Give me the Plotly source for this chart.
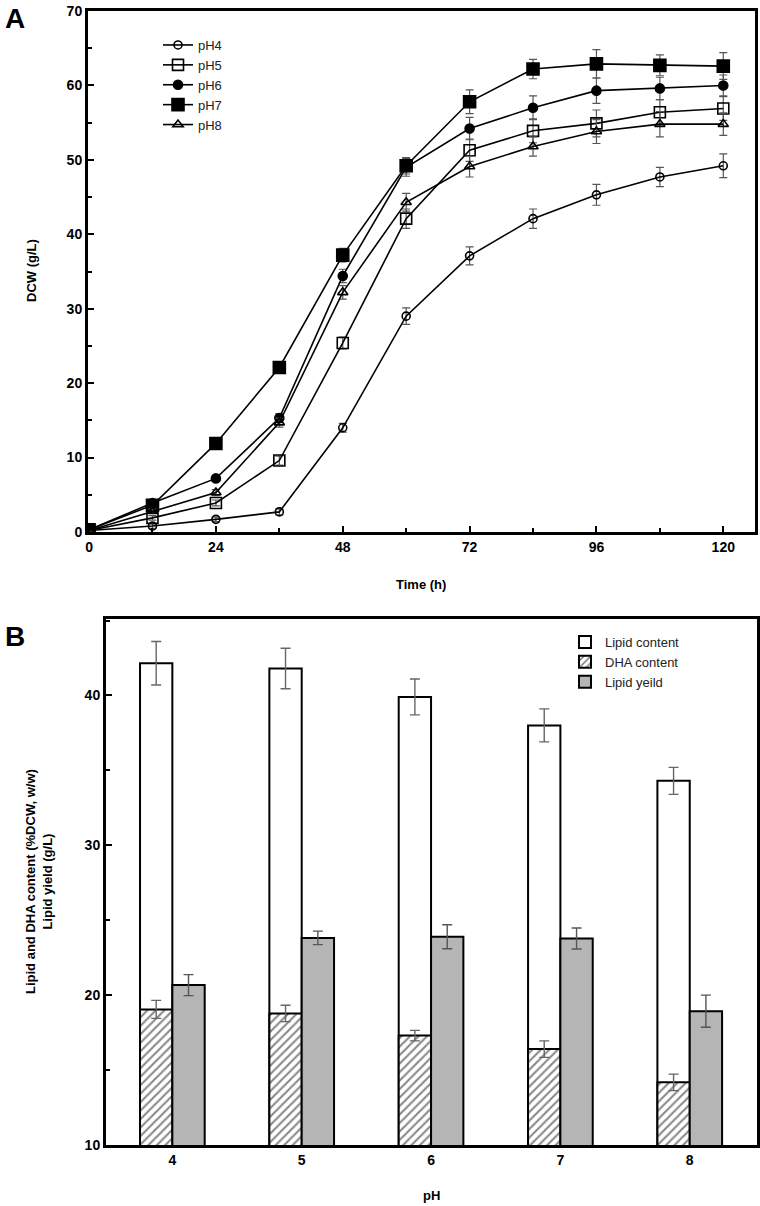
import plotly.graph_objects as go

# ---------------- Panel A data ----------------
time_h = [0, 12, 24, 36, 48, 60, 72, 84, 96, 108, 120]
dcw_ph4 = [0.2, 0.8, 1.7, 2.7, 14.0, 29.0, 37.1, 42.1, 45.3, 47.7, 49.2]
dcw_ph5 = [0.2, 1.9, 3.9, 9.6, 25.4, 42.1, 51.3, 53.9, 54.9, 56.4, 56.9]
dcw_ph6 = [0.3, 3.9, 7.2, 15.3, 34.4, 49.0, 54.2, 57.0, 59.3, 59.6, 60.0]
dcw_ph7 = [0.3, 3.6, 11.9, 22.1, 37.2, 49.2, 57.8, 62.2, 62.9, 62.7, 62.6]
dcw_ph8 = [0.2, 2.8, 5.3, 14.7, 32.2, 44.3, 49.1, 51.8, 53.8, 54.8, 54.8]
err_ph4 = [0.1, 0.3, 0.3, 0.4, 0.6, 1.1, 1.2, 1.3, 1.4, 1.3, 1.6]
err_ph5 = [0.1, 0.3, 0.4, 0.6, 0.8, 1.3, 1.5, 1.6, 1.8, 1.7, 1.6]
err_ph6 = [0.1, 0.3, 0.4, 0.6, 0.9, 1.2, 1.5, 1.6, 1.7, 1.5, 1.4]
err_ph7 = [0.1, 0.3, 0.4, 0.6, 0.9, 1.1, 1.6, 1.3, 1.9, 1.4, 1.8]
err_ph8 = [0.1, 0.3, 0.4, 0.6, 0.9, 1.2, 1.4, 1.3, 1.6, 1.7, 1.5]
series_names = ["pH4", "pH5", "pH6", "pH7", "pH8"]

# ---------------- Panel B data ----------------
ph = [4, 5, 6, 7, 8]
lipid_content = [42.15, 41.8, 39.9, 38.0, 34.3]
lipid_content_err = [1.45, 1.35, 1.2, 1.1, 0.9]
dha_content = [19.05, 18.78, 17.3, 16.4, 14.18]
dha_content_err = [0.6, 0.55, 0.35, 0.55, 0.55]
lipid_yield = [20.67, 23.82, 23.9, 23.78, 18.93]
lipid_yield_err = [0.7, 0.45, 0.8, 0.7, 1.07]

W, H = 760, 1206
FONT = "Liberation Sans, Arial, sans-serif"

fig = go.Figure()

marker_styles = [
    dict(symbol="circle-open", size=8),
    dict(symbol="square-open", size=11),
    dict(symbol="circle", size=9),
    dict(symbol="square", size=12),
    dict(symbol="triangle-up-open", size=9),
]
ys = [dcw_ph4, dcw_ph5, dcw_ph6, dcw_ph7, dcw_ph8]
errs = [err_ph4, err_ph5, err_ph6, err_ph7, err_ph8]
for name, y, e, ms in zip(series_names, ys, errs, marker_styles):
    fig.add_trace(go.Scatter(
        x=time_h, y=y, name=name, mode="lines+markers",
        line=dict(color="black", width=1.6),
        marker=dict(color="black", line=dict(color="black", width=1.6), **ms),
        error_y=dict(type="data", array=e, color="#555555", thickness=1.2, width=4),
        xaxis="x", yaxis="y", legend="legend",
    ))

fig.add_trace(go.Bar(
    x=ph, y=lipid_content, name="Lipid content", offset=-0.25, width=0.25,
    marker=dict(color="white", line=dict(color="black", width=2)),
    error_y=dict(type="data", array=lipid_content_err, color="#666666", thickness=1.4, width=5),
    xaxis="x2", yaxis="y2", legend="legend2",
))
fig.add_trace(go.Bar(
    x=ph, y=dha_content, name="DHA content", offset=-0.25, width=0.25,
    marker=dict(color="white", line=dict(color="black", width=2),
                pattern=dict(shape="/", fgcolor="#111111", bgcolor="white", size=6, solidity=0.35)),
    error_y=dict(type="data", array=dha_content_err, color="#666666", thickness=1.4, width=5),
    xaxis="x2", yaxis="y2", legend="legend2",
))
fig.add_trace(go.Bar(
    x=ph, y=lipid_yield, name="Lipid yeild", offset=0, width=0.25,
    marker=dict(color="#b5b5b5", line=dict(color="black", width=2)),
    error_y=dict(type="data", array=lipid_yield_err, color="#555555", thickness=1.4, width=5),
    xaxis="x2", yaxis="y2", legend="legend2",
))

def px_x(p):
    return p / W

def px_y(p):
    return 1 - p / H

tickfont = dict(family=FONT, size=14, color="black", weight="bold")
axis_common = dict(showline=True, linecolor="black", linewidth=3, mirror=True,
                   ticks="inside", tickcolor="black", tickwidth=2, ticklen=6,
                   showgrid=False, zeroline=False, tickfont=tickfont, automargin=False,
                   ticklabeloverflow="allow")

fig.update_layout(
    width=W, height=H, margin=dict(l=0, r=0, t=0, b=0),
    paper_bgcolor="white", plot_bgcolor="white",
    barmode="overlay", font=dict(family=FONT, color="black"),
    xaxis=dict(domain=[px_x(88), px_x(755)], range=[-0.2, 126], tickvals=[0, 24, 48, 72, 96, 120],
               minor=dict(dtick=12, tick0=0, ticks="inside", ticklen=4, tickcolor="black", tickwidth=2),
               anchor="y", **axis_common),
    yaxis=dict(domain=[px_y(532), px_y(11)], range=[0, 70], dtick=10,
               minor=dict(dtick=5, ticks="inside", ticklen=4, tickcolor="black", tickwidth=2),
               anchor="x", **axis_common),
    xaxis2=dict(domain=[px_x(106), px_x(757)], range=[3.487, 8.52], tickvals=ph,
                anchor="y2", **{**axis_common, "ticks": ""}),
    yaxis2=dict(domain=[px_y(1145), px_y(619)], range=[10, 45.1], dtick=10,
                minor=dict(dtick=5, ticks="inside", ticklen=4, tickcolor="black", tickwidth=2),
                anchor="x2", **axis_common),
    legend=dict(x=px_x(158), y=px_y(30), xanchor="left", yanchor="top",
                bgcolor="rgba(0,0,0,0)", font=dict(family=FONT, size=13, color="#222"),
                tracegroupgap=0, itemsizing="trace"),
    legend2=dict(x=px_x(565), y=px_y(627), xanchor="left", yanchor="top",
                 bgcolor="rgba(0,0,0,0)", font=dict(family=FONT, size=13, color="#222"),
                 tracegroupgap=0),
    showlegend=True,
)

title_font = dict(family=FONT, size=13, color="black", weight="bold")
annotations = [
    dict(text="A", x=px_x(3), y=px_y(18), xanchor="left", yanchor="middle",
         font=dict(family=FONT, size=28, color="black", weight="bold")),
    dict(text="B", x=px_x(3), y=px_y(636), xanchor="left", yanchor="middle",
         font=dict(family=FONT, size=28, color="black", weight="bold")),
    dict(text="Time (h)", x=px_x(421), y=px_y(584), xanchor="center", yanchor="middle", font=title_font),
    dict(text="DCW (g/L)", x=px_x(31), y=px_y(271), xanchor="center", yanchor="middle",
         textangle=-90, font=title_font),
    dict(text="pH", x=px_x(431), y=px_y(1195), xanchor="center", yanchor="middle", font=title_font),
    dict(text="Lipid and DHA content (%DCW, w/w)<br>Lipid yield (g/L)", x=px_x(39), y=px_y(882),
         xanchor="center", yanchor="middle", textangle=-90, font=title_font),
]
for a in annotations:
    a.update(xref="paper", yref="paper", showarrow=False)
fig.update_layout(annotations=annotations)

fig.write_html("out.html", config={"displayModeBar": False},
               post_script="document.body.style.margin='0';document.body.style.overflow='hidden';")
